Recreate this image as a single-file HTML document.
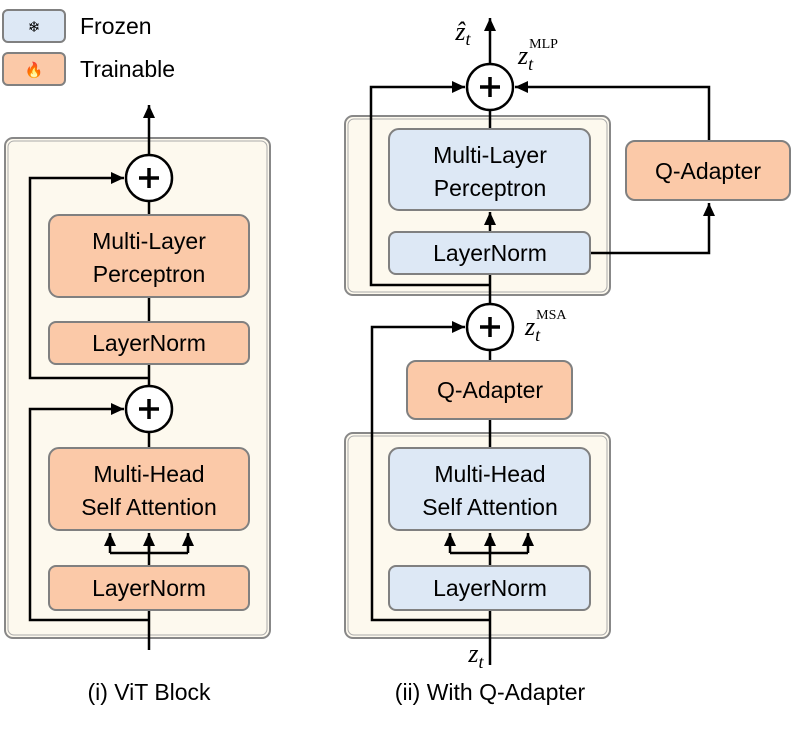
<!DOCTYPE html>
<html><head><style>body{margin:0;background:#fff}</style></head><body>
<svg width="793" height="729" xmlns="http://www.w3.org/2000/svg" font-family="Liberation Sans, sans-serif">
<defs><marker id="b" markerWidth="14" markerHeight="14" refX="13" refY="6" orient="auto" markerUnits="userSpaceOnUse"><path d="M0,0 L13,6 L0,12 Z" fill="#000"/></marker></defs>
<style>.blk{fill:#fdf9ee;stroke:#888;stroke-width:2}.f{fill:#dde8f5;stroke:#808080;stroke-width:2}.t{fill:#fbc9a8;stroke:#808080;stroke-width:2}.l{stroke:#000;stroke-width:2.5;fill:none}.p{stroke:#000;stroke-width:3.5;fill:none}text{fill:#000;text-anchor:middle}.n{font-size:23px}.m{font-family:"Liberation Serif",serif;font-style:italic;font-size:26px}</style>
<!-- legend -->
<rect x="3" y="10" width="62" height="32" rx="5" class="f"/><text x="34" y="32" style="font-size:15px">❄</text><text class="n" x="80" y="34" style="text-anchor:start">Frozen</text>
<rect x="3" y="53" width="62" height="32" rx="5" class="t"/><text x="34" y="75" style="font-size:15px">🔥</text><text class="n" x="80" y="77" style="text-anchor:start">Trainable</text>
<!-- left -->
<rect x="5" y="138" width="265" height="500" rx="8" class="blk"/><rect x="8" y="141" width="259" height="494" rx="6" fill="none" stroke="#aaa" stroke-width="1"/>
<path class="l" d="M149 650 V610"/><path class="l" d="M149 566 V540"/>
<path class="l" d="M110 553 H188"/><path class="l" d="M110 553 V533" marker-end="url(#b)"/><path class="l" d="M149 553 V533" marker-end="url(#b)"/><path class="l" d="M188 553 V533" marker-end="url(#b)"/>
<path class="l" d="M149 620 H30 V409 H124" marker-end="url(#b)"/>
<path class="l" d="M149 448 V432"/><path class="l" d="M149 386 V364"/><path class="l" d="M149 322 V297"/>
<path class="l" d="M149 378 H30 V178 H124" marker-end="url(#b)"/>
<path class="l" d="M149 215 V201"/><path class="l" d="M149 155 V105" marker-end="url(#b)"/>
<circle cx="149" cy="178" r="23" fill="#fff" stroke="#000" stroke-width="2.5"/><path class="p" d="M139 178 H159 M149 168 V188"/>
<circle cx="149" cy="409" r="23" fill="#fff" stroke="#000" stroke-width="2.5"/><path class="p" d="M139 409 H159 M149 399 V419"/>
<rect x="49" y="215" width="200" height="82" rx="10" class="t"/><text class="n" x="149" y="249">Multi-Layer</text><text class="n" x="149" y="282">Perceptron</text>
<rect x="49" y="322" width="200" height="42" rx="7" class="t"/><text class="n" x="149" y="351">LayerNorm</text>
<rect x="49" y="448" width="200" height="82" rx="10" class="t"/><text class="n" x="149" y="482">Multi-Head</text><text class="n" x="149" y="515">Self Attention</text>
<rect x="49" y="566" width="200" height="44" rx="7" class="t"/><text class="n" x="149" y="596">LayerNorm</text>
<text class="n" x="149" y="700">(i) ViT Block</text>
<!-- right -->
<rect x="345" y="116" width="265" height="179" rx="8" class="blk"/><rect x="348" y="119" width="259" height="173" rx="6" fill="none" stroke="#aaa" stroke-width="1"/>
<rect x="345" y="433" width="265" height="205" rx="8" class="blk"/><rect x="348" y="436" width="259" height="199" rx="6" fill="none" stroke="#aaa" stroke-width="1"/>
<path class="l" d="M490 665 V610"/><path class="l" d="M490 566 V540"/>
<path class="l" d="M450 553 H528"/><path class="l" d="M450 553 V533" marker-end="url(#b)"/><path class="l" d="M490 553 V533" marker-end="url(#b)"/><path class="l" d="M528 553 V533" marker-end="url(#b)"/>
<path class="l" d="M490 620 H372 V327 H465" marker-end="url(#b)"/>
<path class="l" d="M490 448 V419"/><path class="l" d="M490 361 V350"/><path class="l" d="M490 304 V274"/>
<path class="l" d="M490 232 V212" marker-end="url(#b)"/>
<path class="l" d="M490 285 H371 V87 H465" marker-end="url(#b)"/>
<path class="l" d="M590 253 H709 V203" marker-end="url(#b)"/>
<path class="l" d="M709 141 V87 H515" marker-end="url(#b)"/>
<path class="l" d="M490 129 V110"/><path class="l" d="M490 64 V18" marker-end="url(#b)"/>
<circle cx="490" cy="87" r="23" fill="#fff" stroke="#000" stroke-width="2.5"/><path class="p" d="M480 87 H500 M490 77 V97"/>
<circle cx="490" cy="327" r="23" fill="#fff" stroke="#000" stroke-width="2.5"/><path class="p" d="M480 327 H500 M490 317 V337"/>
<rect x="389" y="129" width="201" height="81" rx="10" class="f"/><text class="n" x="490" y="163">Multi-Layer</text><text class="n" x="490" y="196">Perceptron</text>
<rect x="389" y="232" width="201" height="42" rx="7" class="f"/><text class="n" x="490" y="261">LayerNorm</text>
<rect x="626" y="141" width="164" height="59" rx="9" class="t"/><text class="n" x="708" y="179">Q-Adapter</text>
<rect x="407" y="361" width="165" height="58" rx="9" class="t"/><text class="n" x="490" y="398">Q-Adapter</text>
<rect x="389" y="448" width="201" height="82" rx="10" class="f"/><text class="n" x="490" y="482">Multi-Head</text><text class="n" x="490" y="515">Self Attention</text>
<rect x="389" y="566" width="201" height="44" rx="7" class="f"/><text class="n" x="490" y="596">LayerNorm</text>
<text class="m" x="463" y="40">ẑ<tspan style="font-size:18px" dy="5">t</tspan></text>
<text class="m" x="518" y="64" style="text-anchor:start">z<tspan style="font-size:18px" dy="6">t</tspan><tspan style="font-style:normal;font-size:14px" dx="-4" dy="-22">MLP</tspan></text>
<text class="m" x="525" y="335" style="text-anchor:start">z<tspan style="font-size:18px" dy="6">t</tspan><tspan style="font-style:normal;font-size:14px" dx="-4" dy="-22">MSA</tspan></text>
<text class="m" x="476" y="662">z<tspan style="font-size:18px" dy="6">t</tspan></text>
<text class="n" x="490" y="700">(ii) With Q-Adapter</text>
</svg>
</body></html>
